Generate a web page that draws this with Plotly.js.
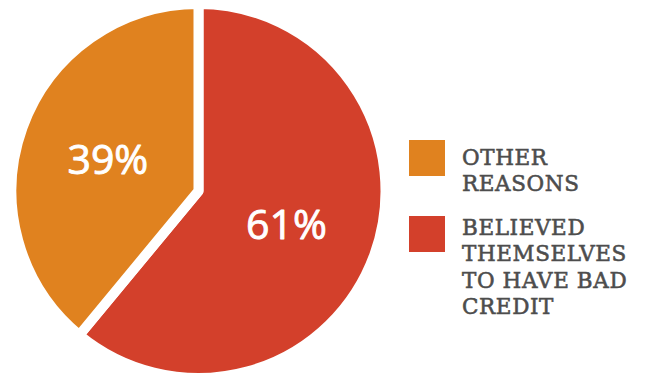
<!DOCTYPE html>
<html>
<head>
<meta charset="utf-8">
<script src="https://cdn.plot.ly/plotly-3.0.1.min.js"></script>
<style>
html, body { margin: 0; padding: 0; overflow: hidden; background: #fff; }
#chart { width: 652px; height: 378px; }
.annotation-text { letter-spacing: 0.6px; stroke: #4d4d4d; stroke-width: 0.55px; }
.slicetext { stroke: #ffffff; stroke-width: 0.9px; }
</style>
</head>
<body>
<div id="chart"></div>
<script>
// Data (drawn clockwise from 12 o'clock)
const categories = ['Believed themselves to have bad credit', 'Other reasons'];
const values = [61, 39];
const sliceColors = ['#D3402B', '#E0821F'];
// Legend (listed top to bottom)
const legendOrder = [1, 0];
const legendLabels = ['OTHER<br>REASONS', 'BELIEVED<br>THEMSELVES<br>TO HAVE BAD<br>CREDIT'];

const W = 652, H = 378;
const px = x => x / W;
const py = y => 1 - y / H;

const trace = {
  type: 'pie',
  labels: categories,
  values: values,
  sort: false,
  direction: 'clockwise',
  rotation: 0,
  marker: { colors: sliceColors, line: { color: '#ffffff', width: 10 } },
  texttemplate: '%{value}%',
  textposition: 'inside',
  insidetextorientation: 'horizontal',
  textfont: { family: 'Open Sans, sans-serif', size: 41, color: '#ffffff' },
  hoverinfo: 'none',
  showlegend: false,
  domain: { x: [px(11.5), px(385.5)], y: [0, py(4)] }
};

const legendBoxTops = [140, 216];
const legendFirstBaselines = [164, 234];
const lineGap = 26.5;
const fontSize = 21.5;
const shapes = [];
const annotations = [];
legendOrder.forEach((idx, i) => {
  const top = legendBoxTops[i];
  shapes.push({
    type: 'rect', xref: 'paper', yref: 'paper',
    x0: px(409), x1: px(445), y0: py(top + 36), y1: py(top),
    fillcolor: sliceColors[idx], line: { width: 0 }
  });
  legendLabels[i].split('<br>').forEach((line, j) => {
    const baseline = legendFirstBaselines[i] + j * lineGap;
    annotations.push({
      xref: 'paper', yref: 'paper',
      x: px(460), y: py(baseline - fontSize),
      xanchor: 'left', yanchor: 'top', align: 'left',
      showarrow: false,
      text: line,
      font: { family: 'DejaVu Serif, serif', size: fontSize, color: '#4d4d4d' }
    });
  });
});

const layout = {
  width: W, height: H,
  margin: { l: 0, r: 0, t: 0, b: 0 },
  paper_bgcolor: '#ffffff',
  showlegend: false,
  shapes: shapes,
  annotations: annotations
};

Plotly.newPlot('chart', [trace], layout, { displayModeBar: false, staticPlot: true });
</script>
</body>
</html>
